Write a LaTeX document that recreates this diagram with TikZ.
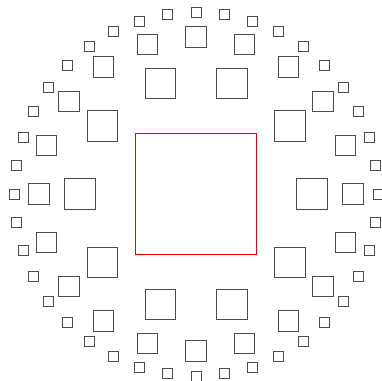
\documentclass[tikz,border=0pt]{standalone}
\begin{document}
\begin{tikzpicture}[
  x=0.75pt,
  y=0.75pt,
  box/.style={draw=black!70, line width=0.6pt, inner sep=0pt, outer sep=0pt},
  core/.style={box, draw=red!90!black, minimum size=90.5pt},
  ringa/.style={box, minimum size=22.8pt},
  ringb/.style={box, minimum size=15.2pt},
  ringc/.style={box, minimum size=7.5pt}
]
\useasboundingbox (-196,-186) rectangle (186,194);
% centre
\node[core] (c) at (0,0) {};
% rings of squares round it
\foreach \i in {0,...,9}
  \node[ringa] (a\i) at (36*\i:116) {};
\foreach \i in {0,...,19}
  \node[ringb] (b\i) at (18*\i:157) {};
\foreach \i in {0,...,39}
  \node[ringc] (s\i) at (9*\i:182) {};
\end{tikzpicture}
\end{document}
